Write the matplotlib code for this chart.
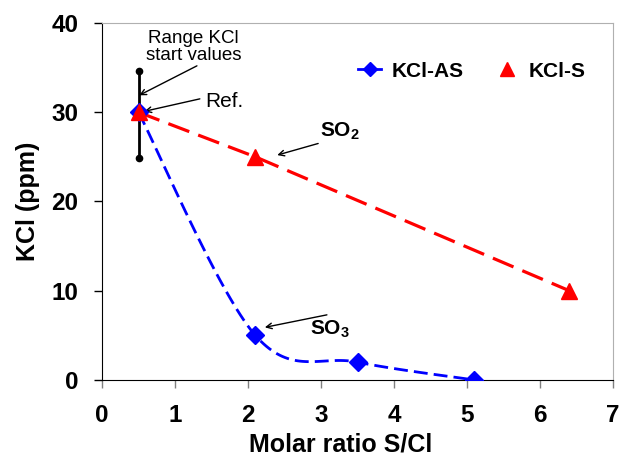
import numpy as np
import matplotlib
matplotlib.use("Agg")
import matplotlib.pyplot as plt
from matplotlib.lines import Line2D

plt.rcParams['font.family'] = ['Liberation Sans', 'DejaVu Sans']
plt.rcParams['mathtext.fontset'] = 'custom'
plt.rcParams['mathtext.rm'] = 'Liberation Sans'
plt.rcParams['mathtext.bf'] = 'Liberation Sans:bold'

# Datos
x_as = [0.5, 2.1, 3.5, 5.1]
y_as = [30, 5, 2, 0]
x_s = [0.5, 2.1, 6.4]
y_s = [30, 25, 10]
rango_x = 0.5
rango_y = [24.9, 34.6]

xticks = [0, 1, 2, 3, 4, 5, 6, 7]
yticks = [0, 10, 20, 30, 40]


def suavizar(xs, ys, sx=73.0, sy=8.93, n=40):
    # curva suavizada tipo Excel (Bezier cubica), calculada en escala de pantalla
    p = np.column_stack([np.array(xs) * sx, np.array(ys) * sy])
    m = len(p)
    out = []
    for i in range(m - 1):
        p0 = p[i - 1] if i > 0 else p[i]
        p1 = p[i]
        p2 = p[i + 1]
        p3 = p[i + 2] if i + 2 < m else p[i + 1]
        c1 = p1 + (p2 - p0) / 6
        c2 = p2 - (p3 - p1) / 6
        t = np.linspace(0, 1, n)[:, None]
        seg = (1 - t) ** 3 * p1 + 3 * (1 - t) ** 2 * t * c1 + 3 * (1 - t) * t ** 2 * c2 + t ** 3 * p2
        out.append(seg if i == 0 else seg[1:])
    out = np.vstack(out)
    return out[:, 0] / sx, out[:, 1] / sy


fig = plt.figure(figsize=(6.2, 4.58), dpi=100)
ax = fig.add_axes([0.1645, 0.1703, 0.8245, 0.7795])

# rango de valores iniciales
ax.plot([rango_x, rango_x], rango_y, color='black', lw=2, zorder=2)
ax.plot([rango_x, rango_x], rango_y, 'o', color='black', ms=4.5, zorder=2)

xc, yc = suavizar(x_as, y_as)
ax.plot(xc, yc, color='#0000FF', lw=2, dashes=(5, 2.2), zorder=3)
ax.plot(x_as, y_as, 'D', color='#0000FF', ms=9, zorder=4)

ax.plot(x_s, y_s, color='#FF0000', lw=2.3, dashes=(7, 3), zorder=3)
ax.plot(x_s, y_s, '^', color='#FF0000', ms=11, zorder=5)

ax.set_xlim(0, 7)
ax.set_ylim(0, 40)
ax.set_xticks(xticks)
ax.set_yticks(yticks)
ax.tick_params(direction='out', length=6, width=1, labelsize=17.5)
ax.tick_params(axis='x', color='#808080', pad=11)
ax.tick_params(axis='y', color='black', pad=11)
for lab in ax.get_xticklabels() + ax.get_yticklabels():
    lab.set_fontweight('bold')

for s in ['top', 'right']:
    ax.spines[s].set_color('#b0b0b0')
for s in ['left', 'bottom']:
    ax.spines[s].set_color('black')

ax.set_xlabel('Molar ratio S/Cl', fontsize=18, fontweight='bold')
ax.set_ylabel('KCl (ppm)', fontsize=18, fontweight='bold')
ax.xaxis.set_label_coords(0.466, -0.148)
ax.yaxis.set_label_coords(-0.122, 0.5)

flecha = dict(arrowstyle='->', color='black', lw=1, shrinkA=0, shrinkB=0)
ax.text(1.25, 37.3, 'Range KCl\nstart values', fontsize=13.5, ha='center', va='center',
        linespacing=1.05)
ax.annotate('', xy=(0.51, 31.9), xytext=(1.30, 35.2), arrowprops=flecha)
ax.text(1.68, 31.2, 'Ref.', fontsize=15, ha='center', va='center')
ax.annotate('', xy=(0.58, 30.1), xytext=(1.34, 31.5), arrowprops=flecha)
ax.text(3.26, 27.9, 'SO$_\\mathbf{2}$', fontsize=15, fontweight='bold', ha='center', va='center')
ax.annotate('', xy=(2.40, 25.2), xytext=(2.96, 26.5), arrowprops=flecha)
ax.text(3.12, 5.7, 'SO$_\\mathbf{3}$', fontsize=15, fontweight='bold', ha='center', va='center')
ax.annotate('', xy=(2.23, 5.9), xytext=(3.08, 7.3), arrowprops=flecha)

handles = [Line2D([], [], color='#0000FF', lw=2, marker='D', ms=7),
           Line2D([], [], color='#FF0000', lw=0, marker='^', ms=10)]
ax.legend(handles, ['KCl-AS', 'KCl-S'], loc='center left', bbox_to_anchor=(0.465, 0.865),
          ncol=2, frameon=False, handlelength=1.1, handletextpad=0.5, columnspacing=1.5,
          prop=dict(size=15, weight='bold'))

fig.savefig('out.png', dpi=100)
